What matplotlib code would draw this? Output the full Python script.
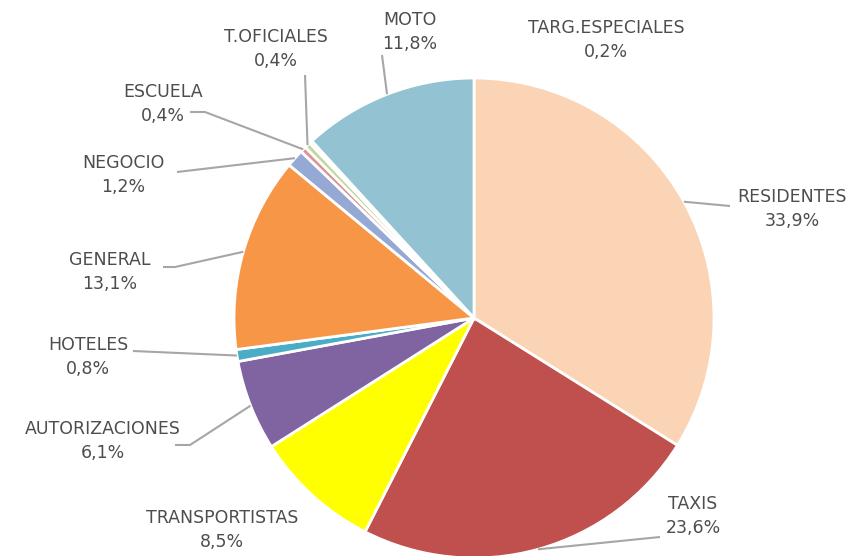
import numpy as np
import matplotlib
matplotlib.use("Agg")
import matplotlib.pyplot as plt

categories = ["RESIDENTES", "TAXIS", "TRANSPORTISTAS", "AUTORIZACIONES", "HOTELES",
              "GENERAL", "NEGOCIO", "ESCUELA", "T.OFICIALES", "TARG.ESPECIALES", "MOTO"]
values = [33.9, 23.6, 8.5, 6.1, 0.8, 13.1, 1.2, 0.4, 0.4, 0.2, 11.8]
colors = ["#FAD4B4", "#C0504D", "#FFFF00", "#8064A2", "#4BACC6",
          "#F79646", "#95A9D4", "#D99694", "#C3D69B", "#B3A2C7", "#93C3D3"]

W, H = 852, 556
fig = plt.figure(figsize=(W / 100, H / 100), dpi=100)
ax = fig.add_axes([0, 0, 1, 1])

cx, cy_img, R = 474, 318, 240
wedges, _ = ax.pie(values, colors=colors, startangle=90, counterclock=False,
                   center=(cx, H - cy_img), radius=R,
                   wedgeprops=dict(edgecolor="white", linewidth=2))
ax.set_xlim(0, W)
ax.set_ylim(0, H)
ax.set_aspect("equal")
ax.axis("off")

# layout: text centres (image coords) and leader elbow points (image coords)
label_pos = {
    "RESIDENTES": (792, 209), "TAXIS": (693, 516), "TRANSPORTISTAS": (222, 530),
    "AUTORIZACIONES": (103, 441), "HOTELES": (88, 357), "GENERAL": (110, 272),
    "NEGOCIO": (123, 175), "ESCUELA": (163, 104), "T.OFICIALES": (276, 49),
    "MOTO": (410, 32), "TARG.ESPECIALES": (606, 40),
}
leaders = {
    "RESIDENTES": [(730, 206)], "TAXIS": [(660, 537)],
    "AUTORIZACIONES": [(190, 445), (175, 445)], "HOTELES": [(133, 351)],
    "GENERAL": [(175, 267), (163, 267)], "NEGOCIO": [(177, 172)],
    "ESCUELA": [(205, 112), (190, 112)], "T.OFICIALES": [(305, 75)],
    "MOTO": [(382, 55)],
}

txtcol = "#4D4D4D"
for w, cat, v in zip(wedges, categories, values):
    tx, ty = label_pos[cat]
    pct = f"{v:.1f}".replace(".", ",") + "%"
    ax.text(tx, H - ty, f"{cat}\n{pct}", ha="center", va="center",
            fontsize=12.5, color=txtcol, linespacing=1.4, family="DejaVu Sans")
    if cat in leaders:
        mid = np.deg2rad((w.theta1 + w.theta2) / 2)
        sx, sy = cx + R * np.cos(mid), (H - cy_img) + R * np.sin(mid)
        pts = [(sx, sy)] + [(px, H - py) for px, py in leaders[cat]]
        xs, ys = zip(*pts)
        ax.plot(xs, ys, color="#A6A6A6", lw=1.5, solid_capstyle="butt")

fig.savefig("out.png", dpi=100)
